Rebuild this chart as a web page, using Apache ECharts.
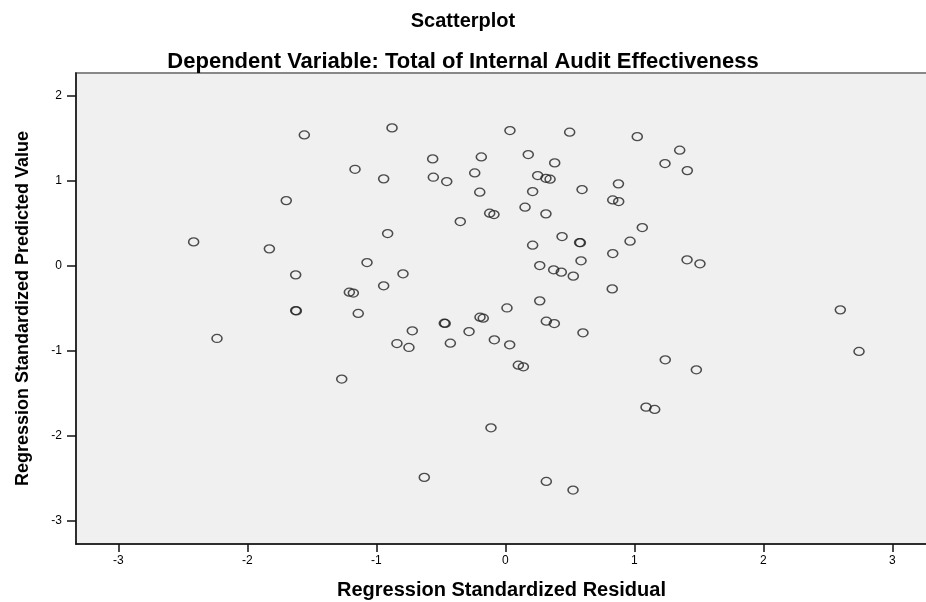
<!DOCTYPE html>
<html>
<head>
<meta charset="utf-8">
<title>Scatterplot</title>
<script src="https://cdn.jsdelivr.net/npm/echarts@6/dist/echarts.min.js"></script>
<style>
  html, body { margin: 0; padding: 0; background: #fff; }
  #chart { width: 926px; height: 602px; }
</style>
</head>
<body>
<div id="chart"></div>
<script>
// values
const residual = [
  -1.558, -1.165, -1.698, -2.416, -1.829, -1.625, -1.209, -1.178, -0.878, 0.036,
  0.499, 1.023, -0.563, -0.186, 0.178, 0.383, -0.943, -0.558, -0.454, -0.237,
  0.251, 0.315, 0.347, -0.198, 0.212, 0.595, 0.877, 0.833, 0.879, -0.121,
  -0.088, 0.153, 0.315, -0.349, -0.912, 1.062, 0.440, 0.576, 0.582, 0.967,
  0.212, 0.833, -1.072, 0.587, 0.267, 0.375, 0.434, 0.527, -0.793, -0.943,
  0.829, 0.267, 0.013, -1.140, 1.352, 1.238, 1.411, 1.409, 1.509, 2.597,
  -1.625, -1.620, -2.235, -1.268, -0.721, -0.840, -0.747, -0.473, -0.466, -0.426,
  -0.281, -0.196, -0.171, -0.085, 0.034, 0.318, 0.380, 0.602, 0.101, 0.140,
  -0.111, -0.628, 0.318, 0.525, 2.742, 1.240, 1.481, 1.091, 1.158
]
const predicted = [
  1.541, 1.137, 0.768, 0.282, 0.200, -0.106, -0.310, -0.320, 1.624, 1.592,
  1.573, 1.521, 1.259, 1.282, 1.310, 1.212, 1.024, 1.043, 0.992, 1.094,
  1.063, 1.031, 1.020, 0.867, 0.875, 0.898, 0.965, 0.776, 0.757, 0.620,
  0.604, 0.690, 0.612, 0.521, 0.380, 0.451, 0.345, 0.274, 0.272, 0.290,
  0.243, 0.145, 0.039, 0.059, 0.004, -0.047, -0.074, -0.121, -0.094, -0.235,
  -0.271, -0.412, -0.496, -0.560, 1.361, 1.204, 1.121, 0.071, 0.024, -0.518,
  -0.526, -0.530, -0.855, -1.333, -0.765, -0.914, -0.961, -0.675, -0.678, -0.910,
  -0.773, -0.604, -0.616, -0.871, -0.929, -0.651, -0.679, -0.788, -1.169, -1.188,
  -1.906, -2.490, -2.538, -2.639, -1.008, -1.106, -1.224, -1.663, -1.690
]
const xTicks = [-3, -2, -1, 0, 1, 2, 3]
const yTicks = [-3, -2, -1, 0, 1, 2]

const points = residual.map((x, i) => [x, predicted[i]])

const font = 'Liberation Sans, Arial, sans-serif'

const chart = echarts.init(document.getElementById('chart'))

const option = {
  backgroundColor: '#ffffff',
  animation: false,
  title: [
    {
      text: 'Scatterplot',
      left: 'center',
      top: 6,
      textStyle: { fontFamily: font, fontSize: 20, fontWeight: 'bold', color: '#000' },
    },
    {
      text: 'Dependent Variable: Total of Internal Audit Effectiveness',
      left: 'center',
      top: 46,
      textStyle: { fontFamily: font, fontSize: 22, fontWeight: 'bold', color: '#000' },
    },
  ],
  grid: {
    left: 76,
    right: -1,
    top: 73,
    bottom: 58,
    outerBoundsMode: 'none', // keep the plot box where it is
    show: true,
    backgroundColor: '#f0f0f0',
    borderColor: '#888',
    borderWidth: 2,
  },
  xAxis: {
    type: 'value',
    min: -3.328,
    max: 3.269,
    name: 'Regression Standardized Residual',
    nameLocation: 'middle',
    nameGap: 36,
    nameTextStyle: { fontFamily: font, fontSize: 20, fontWeight: 'bold', color: '#000' },
    splitLine: { show: false },
    axisLine: { show: true, onZero: false, lineStyle: { color: '#111', width: 1.5 } },
    axisTick: { show: true, length: 8, customValues: xTicks, lineStyle: { color: '#111', width: 1.5 } },
    axisLabel: { customValues: xTicks, fontFamily: font, fontSize: 12, color: '#000', margin: 11 },
  },
  yAxis: {
    type: 'value',
    min: -3.274,
    max: 2.27,
    name: 'Regression Standardized Predicted Value',
    nameLocation: 'middle',
    nameGap: 44,
    nameTextStyle: { fontFamily: font, fontSize: 18, fontWeight: 'bold', color: '#000' },
    splitLine: { show: false },
    axisLine: { show: true, onZero: false, lineStyle: { color: '#111', width: 1.5 } },
    axisTick: { show: true, length: 9, customValues: yTicks, lineStyle: { color: '#111', width: 1.5 } },
    axisLabel: { customValues: yTicks, fontFamily: font, fontSize: 12, color: '#000', margin: 14 },
  },
  series: [
    {
      type: 'scatter',
      data: points,
      symbol: 'circle',
      symbolSize: [10, 8],
      itemStyle: {
        color: 'rgba(0,0,0,0)',
        borderColor: '#222',
        borderWidth: 1.4,
      },
    },
  ],
}

chart.setOption(option)
</script>
</body>
</html>
